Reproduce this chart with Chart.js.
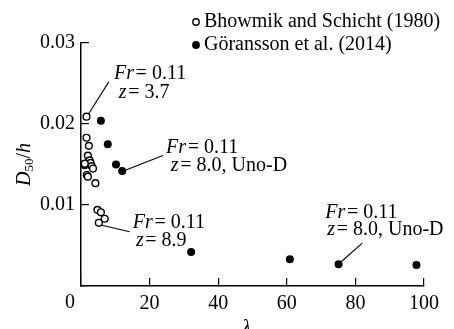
<!DOCTYPE html>
<html>
<head>
<meta charset="utf-8">
<script src="https://cdn.jsdelivr.net/npm/chart.js@4.4.1/dist/chart.umd.min.js"></script>
<style>
  html, body { margin: 0; padding: 0; background: #fff; }
  #wrap { width: 454px; height: 329px; }
</style>
</head>
<body>
<div id="wrap"><canvas id="c" width="454" height="329"></canvas></div>
<script>
/* D50/h vs lambda — scatter, two sources */

const seriesNames = ['Bhowmik and Schicht (1980)', 'Göransson et al. (2014)'];

const bhowmikX = [1.6, 1.6, 2.3, 2.0, 2.5, 2.8, 1.1, 3.1, 3.5, 1.7, 2.0, 4.2, 4.8, 5.8, 6.9, 5.2];
const bhowmikY = [0.0209, 0.0183, 0.0173, 0.0161, 0.0155, 0.0152, 0.0151, 0.0148, 0.0145, 0.0137, 0.0135, 0.0127, 0.0094, 0.0091, 0.0083, 0.0078];

const goranssonX = [1.1, 2.1, 5.8, 7.8, 10.2, 12.0, 32.1, 60.9, 75.1, 97.8];
const goranssonY = [0.0149, 0.0153, 0.0204, 0.0175, 0.0150, 0.0142, 0.0042, 0.0033, 0.0027, 0.0026];

const xTicks = [0, 20, 40, 60, 80, 100];
const yTicks = [0, 0.01, 0.02, 0.03];

const SERIF = "'Liberation Serif', 'DejaVu Serif', serif";

// callouts: text anchor + leader line, in data units
const notes = [
  { fr: [9.6, 0.0262], z: [11.0, 0.0239], zText: '3.7', line: [2.3, 0.0213, 8.1, 0.0252] },
  { fr: [24.8, 0.0171], z: [26.2, 0.0148], zText: '8.0, Uno-D', line: [12.9, 0.0143, 23.9, 0.0161] },
  { fr: [15.1, 0.0078], z: [16.0, 0.0056], zText: '8.9', line: [6.1, 0.0075, 14.2, 0.0067] },
  { fr: [71.2, 0.0091], z: [71.8, 0.0070], zText: '8.0, Uno-D', line: [75.6, 0.0029, 82.0, 0.0053] }
];

function toPoints(xs, ys) {
  return xs.map((x, i) => ({ x: x, y: ys[i] }));
}

// draw a run of [text, italic] pieces, left aligned, vertically centred
function drawRich(ctx, parts, x, y, size) {
  let cx = x;
  ctx.textBaseline = 'middle';
  ctx.textAlign = 'left';
  parts.forEach(p => {
    ctx.font = (p[1] ? 'italic ' : '') + size + 'px ' + SERIF;
    ctx.fillText(p[0], cx, y);
    cx += ctx.measureText(p[0]).width;
  });
}

const extras = {
  id: 'extras',
  afterDraw(chart) {
    const ctx = chart.ctx;
    const xs = chart.scales.x, ys = chart.scales.y;
    ctx.save();
    ctx.fillStyle = '#000';
    ctx.strokeStyle = '#000';

    /* ── callouts ── */
    notes.forEach(n => {
      ctx.lineWidth = 1.1;
      ctx.beginPath();
      ctx.moveTo(xs.getPixelForValue(n.line[0]), ys.getPixelForValue(n.line[1]));
      ctx.lineTo(xs.getPixelForValue(n.line[2]), ys.getPixelForValue(n.line[3]));
      ctx.stroke();
      drawRich(ctx, [['Fr', true], ['\u200a= 0.11', false]],
        xs.getPixelForValue(n.fr[0]), ys.getPixelForValue(n.fr[1]), 20);
      drawRich(ctx, [['z', true], ['\u200a= ' + n.zText, false]],
        xs.getPixelForValue(n.z[0]), ys.getPixelForValue(n.z[1]), 20);
    });

    /* ── legend ── */
    const ds = chart.data.datasets;
    ds.forEach((d, i) => {
      const ly = 22 + i * 23;
      ctx.beginPath();
      ctx.arc(196, ly, 3.2, 0, Math.PI * 2);
      ctx.fillStyle = d.backgroundColor;
      ctx.fill();
      ctx.lineWidth = 1.4;
      ctx.strokeStyle = '#000';
      ctx.stroke();
      ctx.fillStyle = '#000';
      drawRich(ctx, [[d.label, false]], 204, ly, 20);
    });

    /* ── origin label, set off to the left of the corner ── */
    ctx.font = '20px ' + SERIF;
    ctx.textAlign = 'center';
    ctx.textBaseline = 'alphabetic';
    ctx.fillText('0', xs.getPixelForValue(0) - 11, 308);

    /* ── axis titles ── */
    ctx.save();
    ctx.translate(25, (chart.chartArea.top + chart.chartArea.bottom) / 2);
    ctx.rotate(-Math.PI / 2);
    ctx.textBaseline = 'middle';
    ctx.textAlign = 'left';
    const parts = [['D', true, 20, 0], ['50', false, 13, 5], ['/', false, 20, 0], ['h', true, 20, 0]];
    let w = 0;
    parts.forEach(p => { ctx.font = (p[1] ? 'italic ' : '') + p[2] + 'px ' + SERIF; w += ctx.measureText(p[0]).width; });
    let cx = -w / 2;
    parts.forEach(p => {
      ctx.font = (p[1] ? 'italic ' : '') + p[2] + 'px ' + SERIF;
      ctx.fillText(p[0], cx, p[3]);
      cx += ctx.measureText(p[0]).width;
    });
    ctx.restore();

    ctx.font = 'italic 21px ' + SERIF;
    ctx.textAlign = 'center';
    ctx.textBaseline = 'alphabetic';
    ctx.fillText('λ', (chart.chartArea.left + chart.chartArea.right) / 2 - 6, 334);

    ctx.restore();
  }
};

new Chart(document.getElementById('c'), {
  type: 'scatter',
  data: {
    datasets: [
      {
        label: seriesNames[0],
        data: toPoints(bhowmikX, bhowmikY),
        pointStyle: 'circle',
        pointRadius: 3.4,
        borderWidth: 1.4,
        borderColor: '#000',
        backgroundColor: '#fff'
      },
      {
        label: seriesNames[1],
        data: toPoints(goranssonX, goranssonY),
        pointStyle: 'circle',
        pointRadius: 4,
        borderWidth: 0,
        borderColor: '#000',
        backgroundColor: '#000'
      }
    ]
  },
  options: {
    responsive: false,
    animation: false,
    devicePixelRatio: 1,
    layout: { padding: { left: 0, right: 30, top: 43, bottom: 0 } },
    scales: {
      x: {
        type: 'linear',
        min: xTicks[0],
        max: xTicks[xTicks.length - 1],
        afterBuildTicks: s => { s.ticks = xTicks.map(v => ({ value: v })); },
        afterFit: s => { s.height = 43; },
        ticks: {
          color: '#000',
          padding: 14,
          font: { family: SERIF, size: 20 },
          callback: v => (v === 0 ? '' : String(v))
        },
        grid: { drawOnChartArea: false, drawTicks: true, tickLength: -8, color: '#000', lineWidth: 1.2 },
        border: { display: true, color: '#000', width: 1.5 }
      },
      y: {
        type: 'linear',
        min: yTicks[0],
        max: yTicks[yTicks.length - 1],
        afterBuildTicks: s => { s.ticks = yTicks.map(v => ({ value: v })); },
        afterFit: s => { s.width = 81; },
        ticks: {
          color: '#000',
          padding: 14,
          font: { family: SERIF, size: 20 },
          callback: v => (v === 0 ? '' : v.toFixed(2))
        },
        grid: { drawOnChartArea: false, drawTicks: true, tickLength: -8, color: '#000', lineWidth: 1.2 },
        border: { display: true, color: '#000', width: 1.5 }
      }
    },
    plugins: {
      legend: { display: false },
      tooltip: { enabled: false }
    }
  },
  plugins: [extras]
});
</script>
</body>
</html>
